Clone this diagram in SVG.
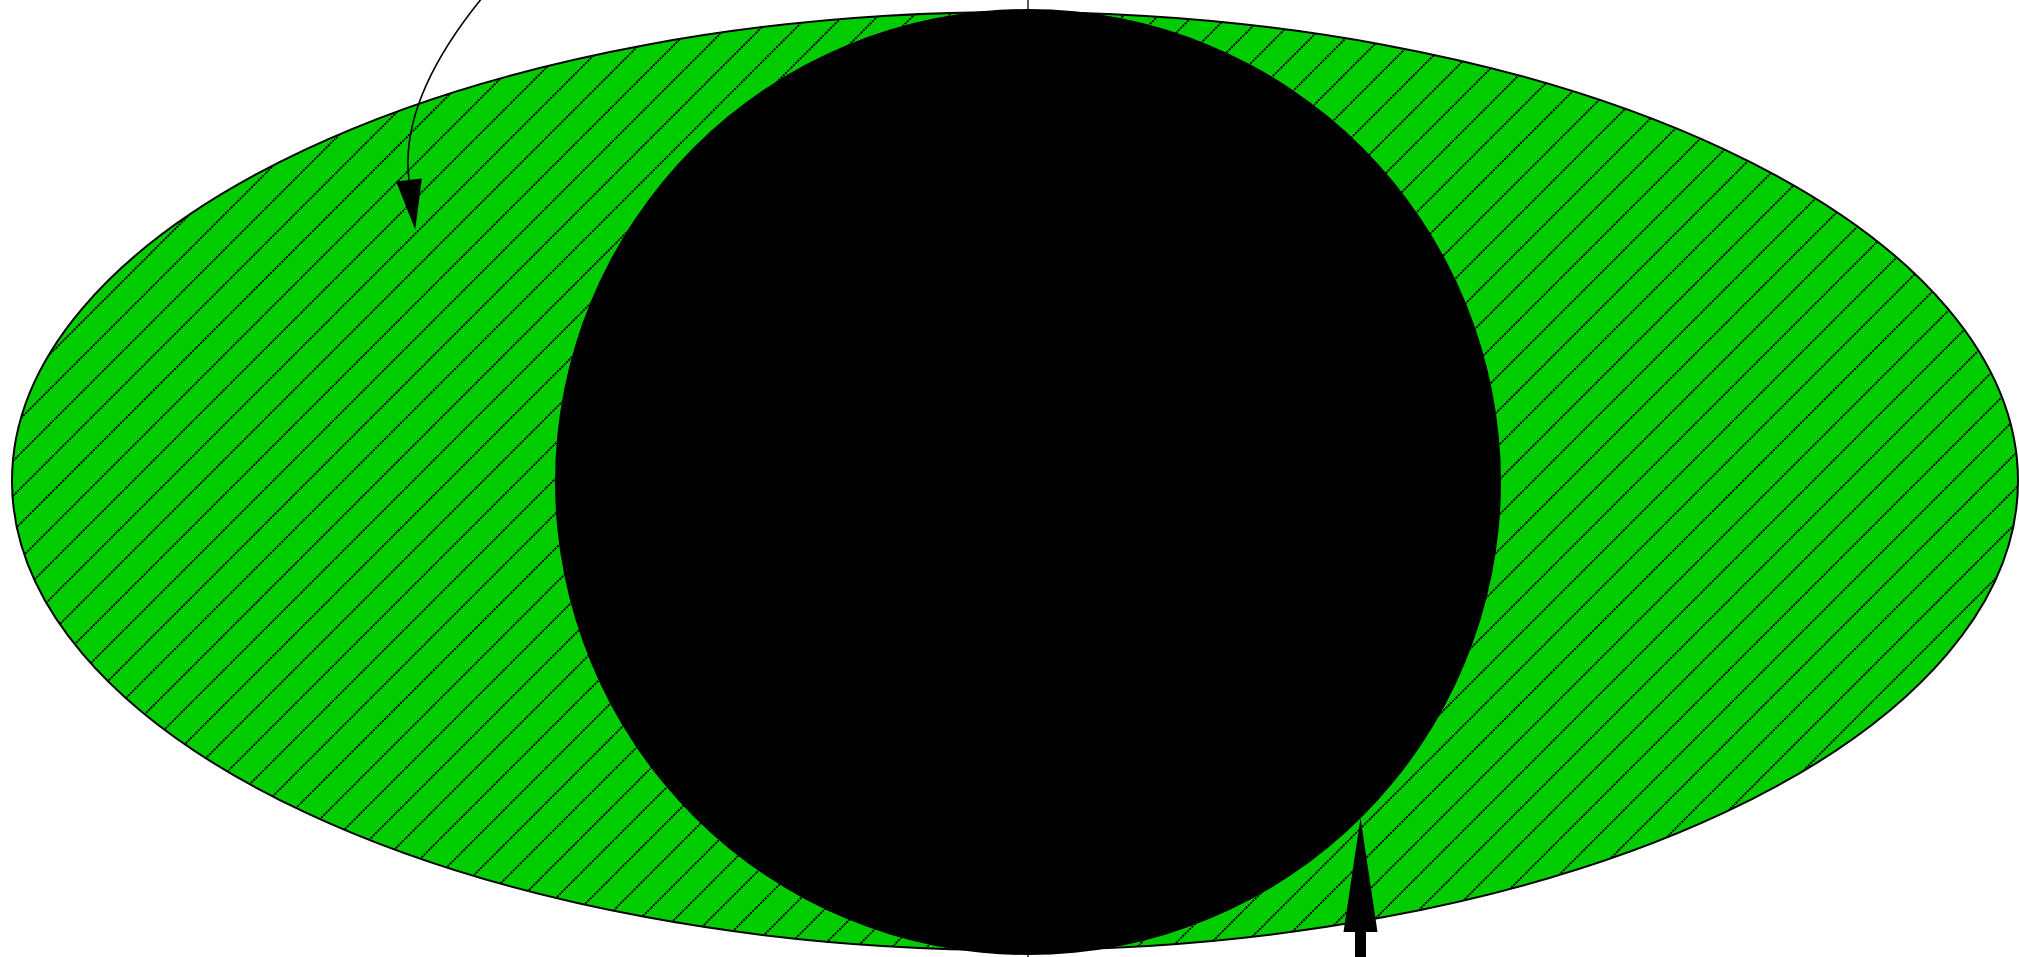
<svg xmlns="http://www.w3.org/2000/svg" width="2019" height="957" viewBox="0 0 2019 957">
  <style>
    .outline { stroke: #000; stroke-width: 2; }
    .hatch { stroke: #000; stroke-width: 1.9; stroke-dasharray: 2.2 1; fill: none; }
    .conn { stroke: #000; fill: none; }
    .head { fill: #000; stroke: none; }
  </style>
  <defs>
    <pattern id="hatch" patternUnits="userSpaceOnUse" x="19" y="0" width="35" height="35">
      <rect x="0" y="0" width="35" height="35" fill="#00cc00"/>
      <path class="hatch" d="M-5,40 L40,-5"/>
    </pattern>
    <marker id="headSmall" markerUnits="userSpaceOnUse" markerWidth="50" markerHeight="26" refX="0" refY="13" orient="auto" overflow="visible">
      <path class="head" d="M0,0 L50,13 L0,26 Z"/>
    </marker>
    <marker id="headBig" markerUnits="userSpaceOnUse" markerWidth="114" markerHeight="34" refX="0" refY="17" orient="auto" overflow="visible">
      <path class="head" d="M0,0 L114,17 L0,34 Z"/>
    </marker>
  </defs>
  <g id="node-ellipse">
    <ellipse class="outline" cx="1015" cy="481" rx="1003" ry="469" fill="url(#hatch)"/>
  </g>
  <g id="node-circle">
    <circle cx="1028" cy="482" r="473" fill="#000"/>
  </g>
  <g id="connectors">
    <line class="conn" x1="1028" y1="0" x2="1028" y2="957" stroke-width="1.3"/>
    <path class="conn" d="M482,-2 Q399,100 409,180" stroke-width="1.6" marker-end="url(#headSmall)"/>
    <line class="conn" x1="1360.5" y1="960" x2="1360.5" y2="932" stroke-width="11" marker-end="url(#headBig)"/>
  </g>
</svg>
